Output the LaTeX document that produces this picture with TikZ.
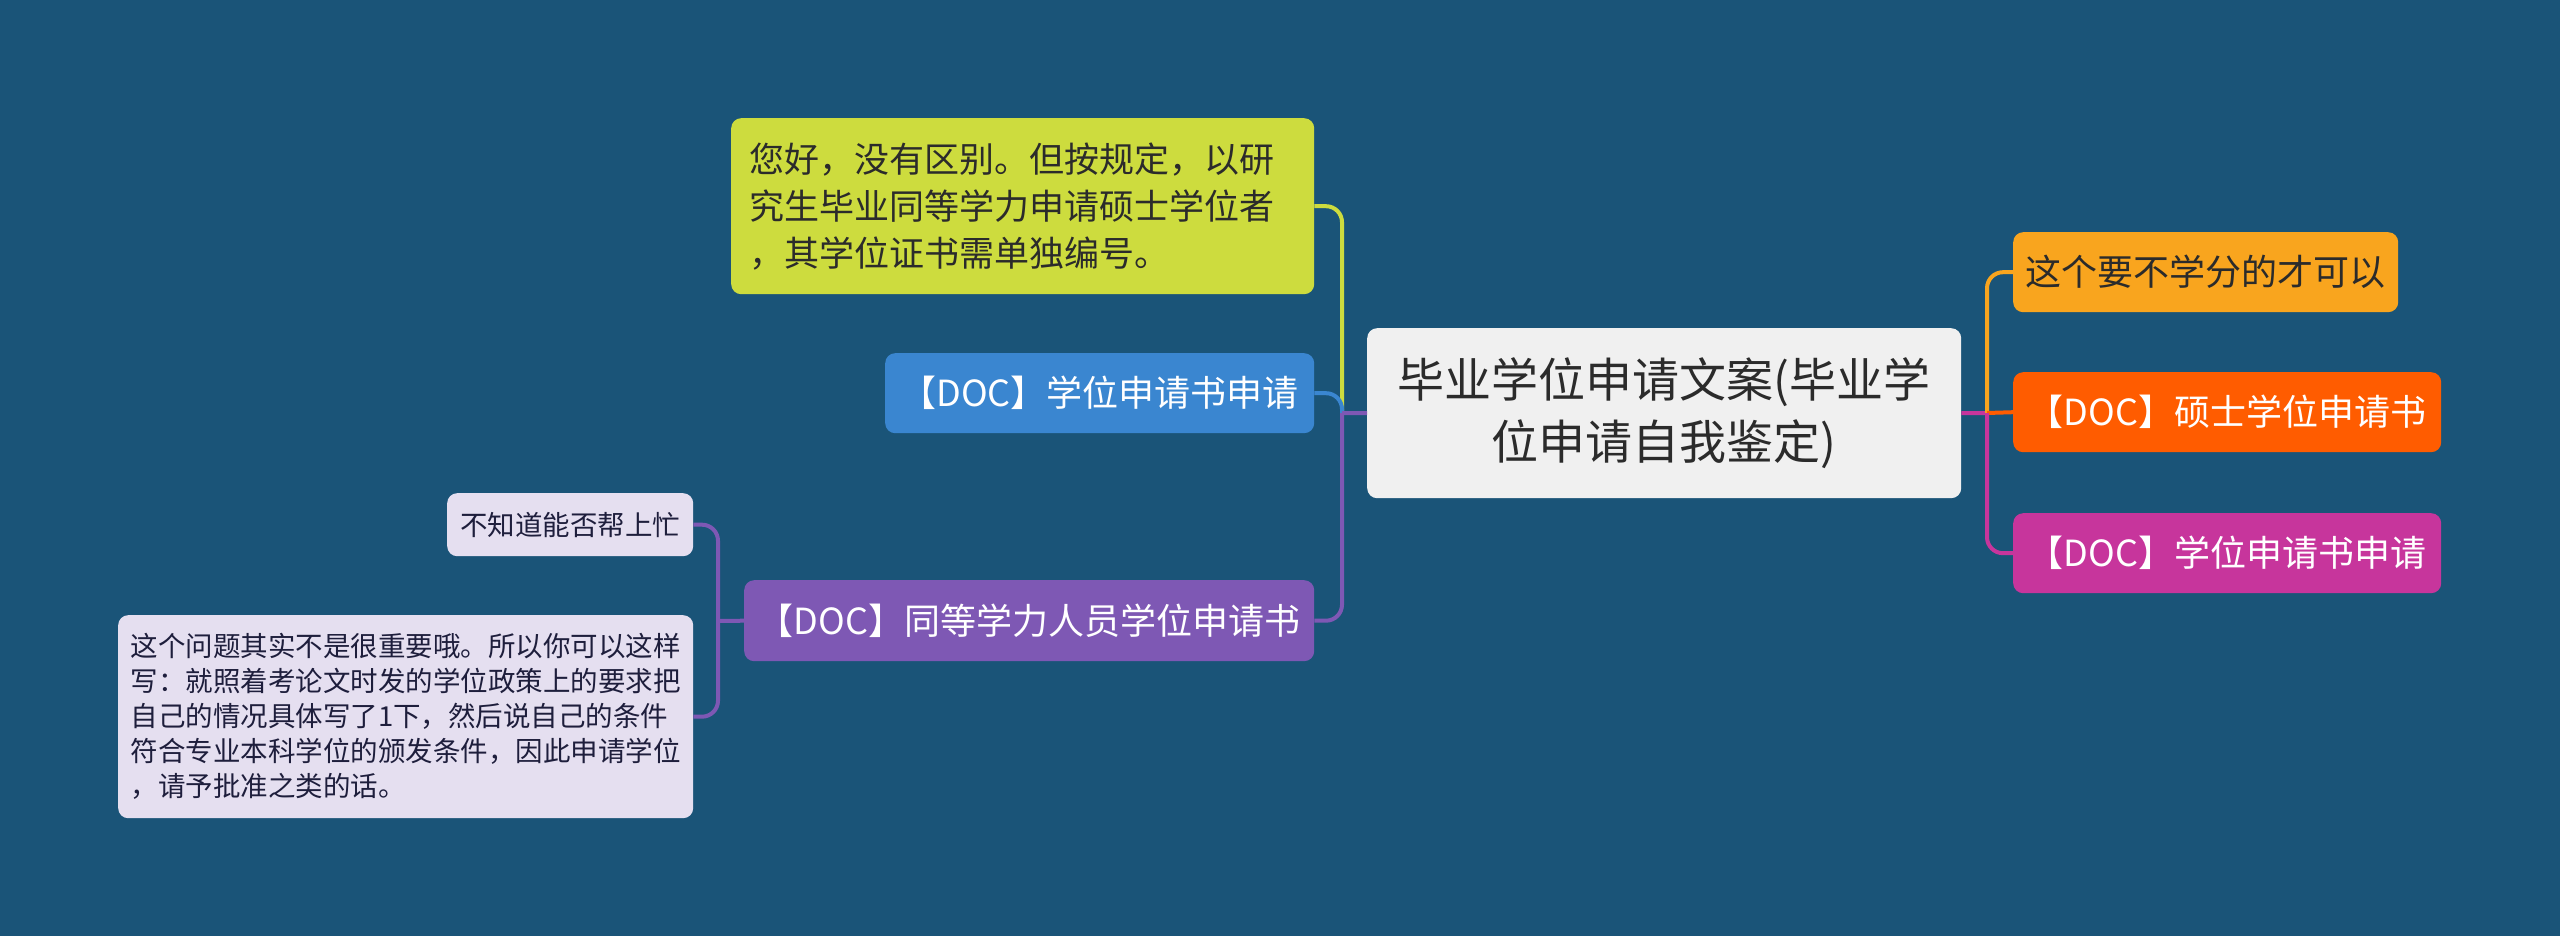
\documentclass[tikz,border=0pt]{standalone}
\usepackage{fontspec}
\setmainfont{Noto Sans CJK SC}
\definecolor{bgc}{HTML}{1A5478}
\definecolor{cyel}{HTML}{CDDC3E}
\definecolor{cblue}{HTML}{3A86D0}
\definecolor{cpurp}{HTML}{7E58B4}
\definecolor{ccent}{HTML}{F0F0F0}
\definecolor{corgy}{HTML}{F9A51E}
\definecolor{corg}{HTML}{FF5C00}
\definecolor{cmag}{HTML}{C7359C}
\definecolor{clav}{HTML}{E5DFF0}
\definecolor{darktxt}{HTML}{2B2B2B}
\definecolor{lavtxt}{HTML}{1E1E3C}
\newcommand\fntmid{\fontsize{36}{47}\selectfont}
\newcommand\fntyel{\fontsize{35}{47}\selectfont}
\newcommand\fntbig{\fontsize{47}{62}\selectfont}
\newcommand\fntsml{\fontsize{27.5}{35}\selectfont}
\begin{document}
\begin{tikzpicture}[x=1pt,y=-1pt,
  box/.style={rectangle, rounded corners=10pt, inner sep=0pt, anchor=north west},
  conn/.style={line width=4pt, rounded corners=16pt},
]
\fill[bgc] (0,0) rectangle (2560,936);
\useasboundingbox (0,0) rectangle (2560,936);

% center
\node[box, fill=ccent, minimum width=594pt, minimum height=170pt, text width=560pt, align=center, font=\fntbig, text=darktxt] (center) at (1367,328) {毕业学位申请文案(毕业学\\位申请自我鉴定)};

% left branch
\node[box, fill=cyel, minimum width=583pt, minimum height=176pt, text width=547pt, align=left, font=\fntyel, text=darktxt] (yellow) at (731,118) {您好，没有区别。但按规定，以研\\究生毕业同等学力申请硕士学位者\\，其学位证书需单独编号。};
\node[box, fill=cblue, minimum width=429pt, minimum height=80pt, font=\fntmid, text=white] (blue) at (885,353) {【DOC】学位申请书申请};
\node[box, fill=cpurp, minimum width=570pt, minimum height=81pt, font=\fntmid, text=white] (purp) at (744,580) {【DOC】同等学力人员学位申请书};

% far left
\node[box, fill=clav, minimum width=246pt, minimum height=63pt, font=\fntsml, text=lavtxt] (lav1) at (447,493) {不知道能否帮上忙};
\node[box, fill=clav, minimum width=575pt, minimum height=203pt, text width=550pt, align=left, font=\fntsml, text=lavtxt] (lav2) at (118,615) {这个问题其实不是很重要哦。所以你可以这样\\写：就照着考论文时发的学位政策上的要求把\\自己的情况具体写了1下，然后说自己的条件\\符合专业本科学位的颁发条件，因此申请学位\\，请予批准之类的话。};

% right branch
\node[box, fill=corgy, minimum width=385pt, minimum height=80pt, font=\fntmid, text=darktxt] (r1) at (2013,232) {这个要不学分的才可以};
\node[box, fill=corg, minimum width=428pt, minimum height=80pt, font=\fntmid, text=white] (r2) at (2013,372) {【DOC】硕士学位申请书};
\node[box, fill=cmag, minimum width=428pt, minimum height=80pt, font=\fntmid, text=white] (r3) at (2013,513) {【DOC】学位申请书申请};

% junctions
\coordinate (jl) at (1342,413);
\coordinate (jr) at (1987,413);
\coordinate (jll) at (718,621);

% connectors
\draw[conn, cyel] (yellow.east) -| (jl);
\draw[conn, cblue] (blue.east) -| (jl);
\draw[conn, cpurp] (purp.east) -| (jl);
\draw[conn, cpurp] (jl) -- (center.west);

\draw[conn, cmag] (center.east) -- (jr);
\draw[conn, corgy] (jr) |- (r1.west);
\draw[conn, corg] (jr) -- (r2.west);
\draw[conn, cmag] (jr) |- (r3.west);

\draw[conn, cpurp] (purp.west) -- (jll);
\draw[conn, cpurp] (jll) |- (lav1.east);
\draw[conn, cpurp] (jll) |- (lav2.east);
\end{tikzpicture}
\end{document}
